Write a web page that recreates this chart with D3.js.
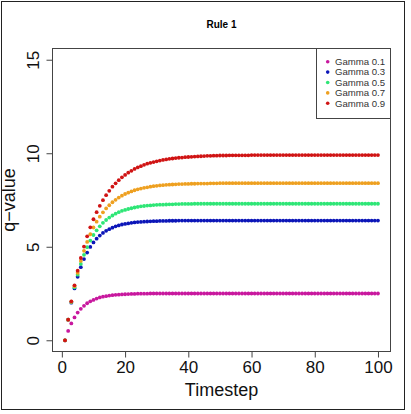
<!DOCTYPE html>
<html>
<head>
<meta charset="utf-8">
<script src="https://cdn.jsdelivr.net/npm/d3@7"></script>
<style>
  body { margin:0; background:#fff; }
  svg { display:block; font-family:"Liberation Sans", Arial, Helvetica, sans-serif; }
</style>
</head>
<body>
<svg id="chart" width="411" height="414"></svg>
<script>
// values, timestep 1..100
const timesteps = d3.range(1, 101);

const gamma01 = [0,0.50,0.90,1.22,1.48,1.68,1.84,1.98,2.08,2.16,
  2.23,2.29,2.33,2.36,2.39,2.41,2.43,2.44,2.45,2.46,
  2.47,2.48,2.48,2.49,2.49,2.49,2.49,2.50,2.50,2.50,
  2.50,2.50,2.50,2.50,2.50,2.50,2.50,2.50,2.50,2.50,
  2.50,2.50,2.50,2.50,2.50,2.50,2.50,2.50,2.50,2.50,
  2.50,2.50,2.50,2.50,2.50,2.50,2.50,2.50,2.50,2.50,
  2.50,2.50,2.50,2.50,2.50,2.50,2.50,2.50,2.50,2.50,
  2.50,2.50,2.50,2.50,2.50,2.50,2.50,2.50,2.50,2.50,
  2.50,2.50,2.50,2.50,2.50,2.50,2.50,2.50,2.50,2.50,
  2.50,2.50,2.50,2.50,2.50,2.50,2.50,2.50,2.50,2.50];

const gamma03 = [0,1.10,2.01,2.77,3.39,3.91,4.34,4.69,4.99,5.23,
  5.43,5.60,5.74,5.85,5.94,6.02,6.09,6.14,6.19,6.22,
  6.25,6.28,6.30,6.32,6.33,6.34,6.35,6.36,6.37,6.37,
  6.38,6.38,6.38,6.39,6.39,6.39,6.40,6.40,6.40,6.40,
  6.40,6.40,6.40,6.40,6.40,6.40,6.40,6.40,6.40,6.40,
  6.40,6.40,6.40,6.40,6.40,6.40,6.40,6.40,6.40,6.40,
  6.40,6.40,6.40,6.40,6.40,6.40,6.40,6.40,6.40,6.40,
  6.40,6.40,6.40,6.40,6.40,6.40,6.40,6.40,6.40,6.40,
  6.40,6.40,6.40,6.40,6.40,6.40,6.40,6.40,6.40,6.40,
  6.40,6.40,6.40,6.40,6.40,6.40,6.40,6.40,6.40,6.40];

const gamma05 = [0,1.10,2.04,2.83,3.51,4.08,4.57,4.98,5.33,5.63,
  5.88,6.09,6.28,6.43,6.56,6.67,6.77,6.85,6.92,6.97,
  7.02,7.06,7.10,7.13,7.16,7.18,7.20,7.21,7.23,7.24,
  7.25,7.25,7.26,7.27,7.27,7.28,7.28,7.29,7.29,7.29,
  7.29,7.30,7.30,7.30,7.30,7.30,7.30,7.30,7.30,7.30,
  7.30,7.30,7.30,7.30,7.30,7.30,7.30,7.30,7.30,7.30,
  7.30,7.30,7.30,7.30,7.30,7.30,7.30,7.30,7.30,7.30,
  7.30,7.30,7.30,7.30,7.30,7.30,7.30,7.30,7.30,7.30,
  7.30,7.30,7.30,7.30,7.30,7.30,7.30,7.30,7.30,7.30,
  7.30,7.30,7.30,7.30,7.30,7.30,7.30,7.30,7.30,7.30];

const gamma07 = [0,1.10,2.06,2.89,3.61,4.24,4.78,5.26,5.67,6.03,
  6.34,6.61,6.84,7.05,7.22,7.38,7.51,7.63,7.73,7.82,
  7.89,7.96,8.02,8.07,8.11,8.15,8.18,8.21,8.24,8.26,
  8.28,8.29,8.31,8.32,8.33,8.34,8.35,8.35,8.36,8.36,
  8.37,8.37,8.38,8.38,8.38,8.38,8.39,8.39,8.39,8.40,
  8.40,8.40,8.40,8.40,8.40,8.40,8.40,8.40,8.40,8.40,
  8.40,8.40,8.40,8.40,8.40,8.40,8.40,8.40,8.40,8.40,
  8.40,8.40,8.40,8.40,8.40,8.40,8.40,8.40,8.40,8.40,
  8.40,8.40,8.40,8.40,8.40,8.40,8.40,8.40,8.40,8.40,
  8.40,8.40,8.40,8.40,8.40,8.40,8.40,8.40,8.40,8.40];

const gamma09 = [0,1.10,2.08,2.94,3.72,4.40,5.01,5.56,6.04,6.47,
  6.85,7.19,7.49,7.76,7.99,8.21,8.39,8.56,8.71,8.84,
  8.96,9.06,9.16,9.24,9.31,9.38,9.44,9.49,9.53,9.57,
  9.61,9.64,9.67,9.70,9.72,9.74,9.76,9.77,9.79,9.80,
  9.81,9.82,9.83,9.84,9.85,9.86,9.86,9.87,9.87,9.88,
  9.88,9.88,9.89,9.89,9.89,9.89,9.89,9.89,9.89,9.90,
  9.90,9.90,9.90,9.90,9.90,9.90,9.90,9.90,9.90,9.90,
  9.90,9.90,9.90,9.90,9.90,9.90,9.90,9.90,9.90,9.90,
  9.90,9.90,9.90,9.90,9.90,9.90,9.90,9.90,9.90,9.90,
  9.90,9.90,9.90,9.90,9.90,9.90,9.90,9.90,9.90,9.90];

const seriesNames = ["Gamma 0.1","Gamma 0.3","Gamma 0.5","Gamma 0.7","Gamma 0.9"];
const seriesValues = [gamma01, gamma03, gamma05, gamma07, gamma09];
const seriesColors = ["#c8189e","#0c16b8","#2ee676","#eea020","#d01414"];
const xTicks = [0,20,40,60,80,100];
const yTicks = [0,5,10,15];

const svg = d3.select("#chart");

// outer frame of the picture
svg.append("rect")
    .attr("x",1.5).attr("y",1.5).attr("width",403).attr("height",408)
    .attr("fill","none").attr("stroke","#222").attr("stroke-width",1);

const box = {left:52.5, right:390.5, top:48.5, bottom:351.5};

// R style 4% padding around data range
const x = d3.scaleLinear().domain([1-0.04*99, 100+0.04*99]).range([box.left, box.right]);
const y = d3.scaleLinear().domain([-0.6, 15.6]).range([box.bottom, box.top]);

// x axis
const gx = svg.append("g")
    .attr("transform",`translate(0,${box.bottom})`)
    .call(d3.axisBottom(x).tickValues(xTicks).tickSize(6).tickSizeOuter(0).tickPadding(3));
gx.select(".domain").remove();
gx.selectAll("line").attr("stroke","#444");
gx.selectAll("text").attr("font-size",17).attr("fill","#111").attr("font-family",null);
svg.append("line")
    .attr("x1",x(0)).attr("x2",x(100)).attr("y1",box.bottom).attr("y2",box.bottom)
    .attr("stroke","#444");

// y axis, labels parallel to axis
const gy = svg.append("g")
    .attr("transform",`translate(${box.left},0)`)
    .call(d3.axisLeft(y).tickValues(yTicks).tickSize(6).tickSizeOuter(0).tickFormat(d3.format("d")));
gy.select(".domain").remove();
gy.selectAll("line").attr("stroke","#444");
gy.selectAll("text")
    .attr("font-size",17).attr("fill","#111").attr("font-family",null)
    .attr("x",null).attr("dy",null)
    .attr("text-anchor","middle")
    .attr("transform","translate(-14,0) rotate(-90)");

// plot box
svg.append("rect")
    .attr("x",box.left).attr("y",box.top)
    .attr("width",box.right-box.left).attr("height",box.bottom-box.top)
    .attr("fill","none").attr("stroke","#444");

// titles
svg.append("text")
    .attr("x",(box.left+box.right)/2).attr("y",28)
    .attr("text-anchor","middle").attr("font-size",10).attr("font-weight","bold")
    .text("Rule 1");
svg.append("text")
    .attr("x",(box.left+box.right)/2).attr("y",396)
    .attr("text-anchor","middle").attr("font-size",18).attr("fill","#111")
    .text("Timestep");
svg.append("text")
    .attr("transform",`translate(15,${(box.top+box.bottom)/2}) rotate(-90)`)
    .attr("text-anchor","middle").attr("font-size",18).attr("fill","#111")
    .text("q\u2212value");

// points
seriesValues.forEach((vals,i) => {
  svg.append("g")
    .selectAll("circle")
    .data(timesteps.map((t,j) => [t, vals[j]]))
    .join("circle")
      .attr("cx", d => x(d[0]))
      .attr("cy", d => y(d[1]))
      .attr("r", 1.9)
      .attr("fill", seriesColors[i]);
});

// legend
const lg = svg.append("g");
lg.append("rect")
    .attr("x",316.5).attr("y",box.top)
    .attr("width",box.right-316.5).attr("height",70)
    .attr("fill","#fff").attr("stroke","#444");
const rows = lg.selectAll("g.row")
  .data(seriesNames)
  .join("g")
    .attr("class","row")
    .attr("transform",(d,i) => `translate(0,${61.7+i*10.4})`);
rows.append("circle").attr("cx",327.7).attr("cy",0).attr("r",1.8)
    .attr("fill",(d,i) => seriesColors[i]);
rows.append("text").attr("x",335).attr("y",0).attr("dy","0.35em")
    .attr("font-size",9.6).attr("fill","#333")
    .text(d => d);
</script>
</body>
</html>
